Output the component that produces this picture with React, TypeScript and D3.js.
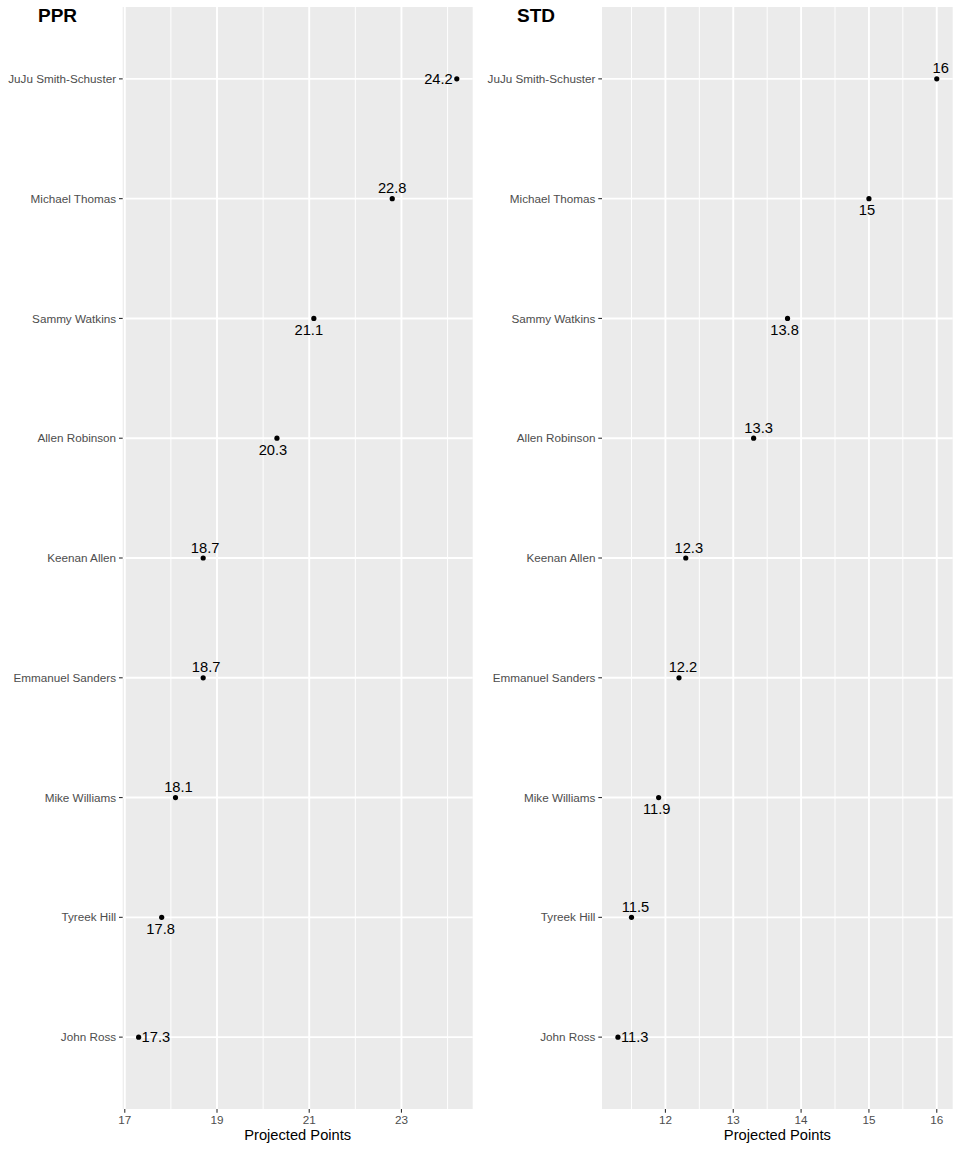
import React from 'react';
import * as d3 from 'd3';

const players = [
  'JuJu Smith-Schuster',
  'Michael Thomas',
  'Sammy Watkins',
  'Allen Robinson',
  'Keenan Allen',
  'Emmanuel Sanders',
  'Mike Williams',
  'Tyreek Hill',
  'John Ross',
];
const pprPoints = [24.2, 22.8, 21.1, 20.3, 18.7, 18.7, 18.1, 17.8, 17.3];
const stdPoints = [16, 15, 13.8, 13.3, 12.3, 12.2, 11.9, 11.5, 11.3];
const pprTicks = [17, 19, 21, 23];
const stdTicks = [12, 13, 14, 15, 16];
const pprLabelSide = ['left', 'above', 'below', 'below', 'above', 'above', 'above', 'below', 'right'];
const stdLabelSide = ['above', 'below', 'below', 'above', 'above', 'above', 'below', 'above', 'right'];
const pprLabelDx = [0, 0, -5, -4, 2, 3, 3, -1, 0];
const stdLabelDx = [4, -2, -3, 5, 3, 4, -2, 4, 0];

const FONT = '"Liberation Sans", Arial, Helvetica, sans-serif';
const TOP = 7;
const BOTTOM = 1109;

type PanelProps = {
  title: string;
  titleX: number;
  x0: number;
  x1: number;
  values: number[];
  ticks: number[];
  sides: string[];
  dxs: number[];
};

function Panel({ title, titleX, x0, x1, values, ticks, sides, dxs }: PanelProps) {
  const [mn, mx] = d3.extent(values) as [number, number];
  const pad = (mx - mn) * 0.05;
  const x = d3.scaleLinear().domain([mn - pad, mx + pad]).range([x0, x1]);
  const y = d3.scalePoint<string>().domain(players).range([TOP, BOTTOM]).padding(0.6);
  const step = ticks[1] - ticks[0];
  const minors: number[] = [];
  for (let v = ticks[0] - step / 2; v <= ticks[ticks.length - 1] + step / 2 + 1e-9; v += step) {
    if (v >= mn - pad && v <= mx + pad) minors.push(v);
  }
  return (
    <g>
      <text x={titleX} y={22} fontFamily={FONT} fontWeight="bold" fontSize={19} fill="#000">
        {title}
      </text>
      <rect x={x0} y={TOP} width={x1 - x0} height={BOTTOM - TOP} fill="#EBEBEB" />
      {minors.map((m, i) => (
        <line key={'mi' + i} x1={x(m)} x2={x(m)} y1={TOP} y2={BOTTOM} stroke="#fff" strokeWidth={0.95} />
      ))}
      {ticks.map((t, i) => (
        <line key={'ma' + i} x1={x(t)} x2={x(t)} y1={TOP} y2={BOTTOM} stroke="#fff" strokeWidth={1.9} />
      ))}
      {players.map((p) => (
        <line key={'hy' + p} x1={x0} x2={x1} y1={y(p)} y2={y(p)} stroke="#fff" strokeWidth={1.9} />
      ))}
      {/* y axis */}
      {players.map((p) => (
        <g key={'yl' + p}>
          <line x1={x0 - 3.7} x2={x0} y1={y(p)} y2={y(p)} stroke="#333" strokeWidth={1.1} />
          <text
            x={x0 - 6.6}
            y={y(p)}
            dy="0.35em"
            textAnchor="end"
            fontFamily={FONT}
            fontSize={11.7}
            fill="#4D4D4D"
          >
            {p}
          </text>
        </g>
      ))}
      {/* x axis */}
      {ticks.map((t) => (
        <g key={'xt' + t}>
          <line x1={x(t)} x2={x(t)} y1={BOTTOM} y2={BOTTOM + 3.7} stroke="#333" strokeWidth={1.1} />
          <text
            x={x(t)}
            y={BOTTOM + 15}
            textAnchor="middle"
            fontFamily={FONT}
            fontSize={11.7}
            fill="#4D4D4D"
          >
            {t}
          </text>
        </g>
      ))}
      <text
        x={(x0 + x1) / 2}
        y={1140}
        textAnchor="middle"
        fontFamily={FONT}
        fontSize={14.7}
        fill="#000"
      >
        Projected Points
      </text>
      {/* points and labels */}
      {players.map((p, i) => {
        const px = x(values[i]);
        const py = y(p) as number;
        const side = sides[i];
        let tx = px + dxs[i];
        let ty = py;
        let anchor = 'middle';
        let dy = '0';
        if (side === 'above') {
          ty = py - 5.5;
        } else if (side === 'below') {
          ty = py + 16.5;
        } else if (side === 'left') {
          tx = px - 4;
          anchor = 'end';
          dy = '0.36em';
        } else {
          tx = px + 3;
          anchor = 'start';
          dy = '0.36em';
        }
        return (
          <g key={'pt' + p}>
            <circle cx={px} cy={py} r={2.6} fill="#000" />
            <text
              x={tx}
              y={ty}
              dy={dy}
              textAnchor={anchor}
              fontFamily={FONT}
              fontSize={14.7}
              fill="#000"
            >
              {String(values[i])}
            </text>
          </g>
        );
      })}
    </g>
  );
}

export default function App() {
  return (
    <svg
      width={960}
      height={1152}
      style={{ position: 'absolute', left: 0, top: 0, display: 'block', background: '#fff' }}
    >
      <rect x={0} y={0} width={960} height={1152} fill="#fff" />
      <Panel
        title="PPR"
        titleX={38}
        x0={122.7}
        x1={472.7}
        values={pprPoints}
        ticks={pprTicks}
        sides={pprLabelSide}
        dxs={pprLabelDx}
      />
      <Panel
        title="STD"
        titleX={517}
        x0={602}
        x1={952.7}
        values={stdPoints}
        ticks={stdTicks}
        sides={stdLabelSide}
        dxs={stdLabelDx}
      />
    </svg>
  );
}
